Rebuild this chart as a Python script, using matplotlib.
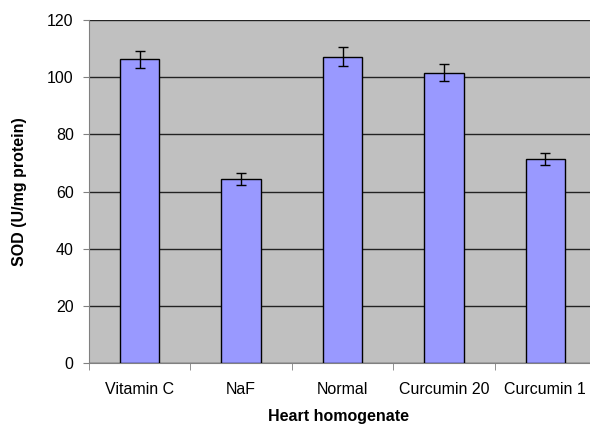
import matplotlib
matplotlib.use("Agg")
import matplotlib.pyplot as plt
import numpy as np

plt.rcParams['font.family'] = ['Liberation Sans', 'DejaVu Sans']

categories = ["Vitamin C", "NaF", "Normal", "Curcumin 20", "Curcumin 1"]
values = [106.2, 64.3, 107.2, 101.6, 71.4]
errors = [3.0, 2.0, 3.4, 3.0, 2.0]
y_ticks = [0, 20, 40, 60, 80, 100, 120]

fig = plt.figure(figsize=(5.9, 4.26), dpi=100)
ax = fig.add_axes([89/590, 63/426, 507/590, 343/426])
ax.set_facecolor('#C0C0C0')

x = np.arange(len(categories))
ax.bar(x, values, width=0.39, color='#9999FF', edgecolor='black', linewidth=1.0, zorder=3)
ax.errorbar(x, values, yerr=errors, fmt='none', ecolor='black', elinewidth=1.0,
            capsize=3.5, capthick=1.0, zorder=4)

ax.set_xlim(-0.5, len(categories) - 0.5)
ax.set_ylim(0, 120)
ax.set_yticks(y_ticks)
ax.set_yticklabels([str(v) for v in y_ticks], fontsize=11.5)
ax.yaxis.grid(True, color='#222222', linewidth=1.0, zorder=1)
ax.set_axisbelow(True)

ax.set_xticks(x)
ax.set_xticklabels(categories, fontsize=11.5)
ax.tick_params(axis='x', length=0, pad=14)
ax.set_xticks(np.arange(-0.5, len(categories), 1.0), minor=True)
ax.tick_params(axis='x', which='minor', length=5, color='#808080', direction='out')
ax.tick_params(axis='y', length=4, color='#808080', direction='out', pad=7)

for s in ['top', 'right']:
    ax.spines[s].set_visible(False)
ax.spines['left'].set_color('#808080')
ax.spines['bottom'].set_color('#808080')

ax.set_ylabel('SOD (U/mg protein)', fontsize=11.5, fontweight='bold')
ax.yaxis.set_label_coords(-62/507, 0.5)
ax.set_xlabel('Heart homogenate', fontsize=11.5, fontweight='bold')
ax.xaxis.set_label_coords(249.5/507, -46/343)

fig.savefig('out.png', dpi=100)
